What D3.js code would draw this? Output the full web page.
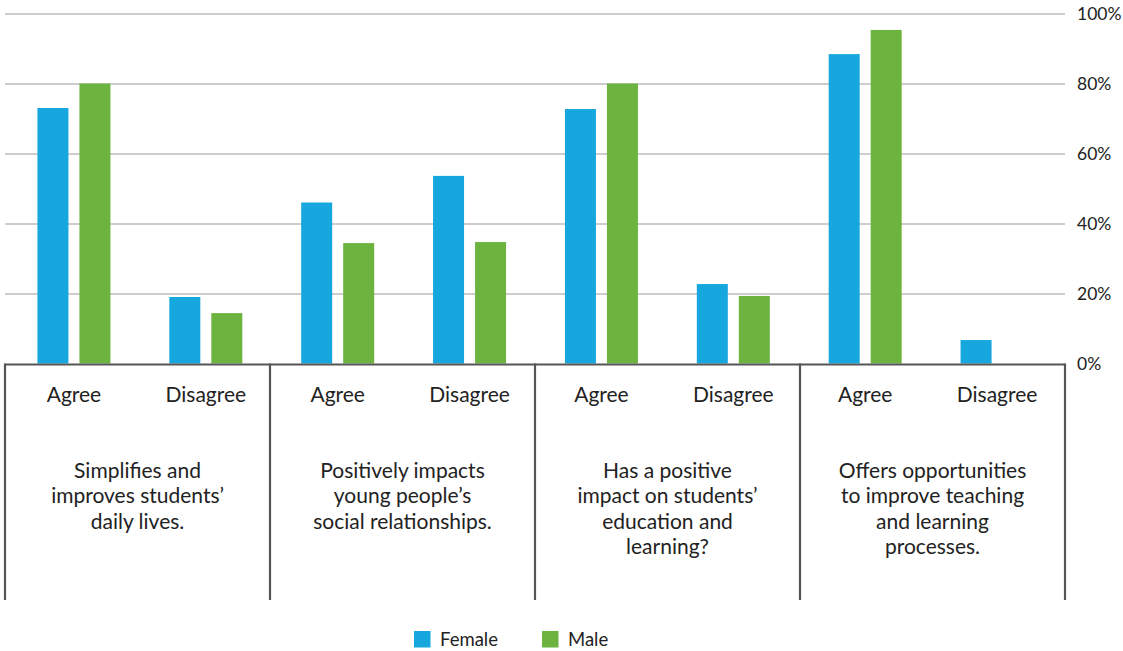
<!DOCTYPE html>
<html>
<head>
<meta charset="utf-8">
<script src="https://cdn.jsdelivr.net/npm/d3@7/dist/d3.min.js"></script>
<style>
  html, body { margin: 0; padding: 0; background: #fff; }
  svg { display: block; }
  text { font-family: Lato, "Open Sans", sans-serif; fill: #222; }
</style>
</head>
<body>
<svg id="chart" width="1123" height="651"></svg>
<script>
// Survey statements (each split into the lines shown under the axis)
const statements = [
  ["Simplifies and", "improves students’", "daily lives."],
  ["Positively impacts", "young people’s", "social relationships."],
  ["Has a positive", "impact on students’", "education and", "learning?"],
  ["Offers opportunities", "to improve teaching", "and learning", "processes."]
];
const responses = ["Agree", "Disagree"];
const seriesNames = ["Female", "Male"];

// Share of respondents (%), one entry per statement × response
const femaleValues = [73, 19, 46, 53.6, 72.7, 22.7, 88.4, 6.7];
const maleValues   = [80, 14.4, 34.4, 34.7, 80, 19.3, 95.3, 0];

const yTicks = [0, 20, 40, 60, 80, 100];
const colors = { Female: "#16a7df", Male: "#6db33f" };

const svg = d3.select("#chart");
const plotLeft = 5, plotRight = 1065, plotTop = 13.5, plotBase = 363.5, frameBottom = 600;

// Slot per (statement, response) pair
const slots = [];
statements.forEach((s, gi) => responses.forEach((r, ri) => {
  const i = gi * responses.length + ri;
  slots.push({ id: i, group: gi, response: r, Female: femaleValues[i], Male: maleValues[i] });
}));

const x0 = d3.scaleBand().domain(slots.map(d => d.id)).range([plotLeft + 3, plotRight - 2]).padding(0);
const xg = d3.scaleBand().domain(d3.range(statements.length)).range([plotLeft, plotRight]).padding(0);
const pairWidth = 73;
const x1 = d3.scaleBand().domain(seriesNames).range([0, pairWidth]).paddingInner(0.262).paddingOuter(0);
const y = d3.scaleLinear().domain([0, 100]).range([plotBase, plotTop]);

// Gridlines and right-hand axis labels
const yAxis = d3.axisRight(y)
  .tickValues(yTicks)
  .tickSize(-(plotRight - plotLeft))
  .tickPadding(12)
  .tickFormat(d => d + "%");
const ga = svg.append("g").attr("transform", `translate(${plotRight},0)`).call(yAxis);
ga.select(".domain").remove();
ga.selectAll(".tick line").attr("stroke", "#bcbcbc").attr("stroke-width", 1.3)
  .filter(d => d === 0).remove();
ga.selectAll(".tick text")
  .style("font-family", "Lato, 'Open Sans', sans-serif")
  .style("font-size", "17.5px").attr("fill", "#333");

// Bars
const groupsSel = svg.append("g").selectAll("g").data(slots).join("g")
  .attr("transform", d => `translate(${x0(d.id) + x0.bandwidth() / 2 - pairWidth / 2},0)`);
groupsSel.selectAll("rect")
  .data(d => seriesNames.map(k => ({ key: k, value: d[k] })).filter(e => e.value > 0))
  .join("rect")
  .attr("x", d => x1(d.key))
  .attr("width", x1.bandwidth())
  .attr("y", d => y(d.value))
  .attr("height", d => y(0) - y(d.value))
  .attr("fill", d => colors[d.key]);

// Baseline and statement dividers
const frame = svg.append("g").attr("stroke", "#555").attr("stroke-width", 2.2).attr("fill", "none");
frame.append("line").attr("x1", plotLeft).attr("x2", plotRight).attr("y1", plotBase + 1).attr("y2", plotBase + 1);
const dividerXs = xg.domain().map(g => xg(g)).concat([plotRight]);
frame.selectAll("line.div").data(dividerXs).join("line").attr("class", "div")
  .attr("x1", d => d).attr("x2", d => d)
  .attr("y1", plotBase).attr("y2", frameBottom);

// Response labels
svg.append("g").selectAll("text").data(slots).join("text")
  .attr("x", d => x0(d.id) + x0.bandwidth() / 2)
  .attr("y", 402)
  .attr("text-anchor", "middle")
  .style("font-size", "21px")
  .text(d => d.response);

// Statement labels
const st = svg.append("g").selectAll("text").data(statements).join("text")
  .attr("text-anchor", "middle")
  .style("font-size", "21px")
  .attr("transform", (d, i) => `translate(${xg(i) + xg.bandwidth() / 2},477.5)`);
st.selectAll("tspan").data(d => d).join("tspan")
  .attr("x", 0).attr("y", (d, i) => i * 25.6)
  .text(d => d);

// Legend
const legend = svg.append("g").attr("transform", "translate(414,631)");
const li = legend.selectAll("g").data(seriesNames).join("g")
  .attr("transform", (d, i) => `translate(${i * 128},0)`);
li.append("rect").attr("width", 16.5).attr("height", 16.5).attr("fill", d => colors[d]);
li.append("text").attr("x", 26).attr("y", 14.5).style("font-size", "18.5px").attr("fill", "#333").text(d => d);
</script>
</body>
</html>
